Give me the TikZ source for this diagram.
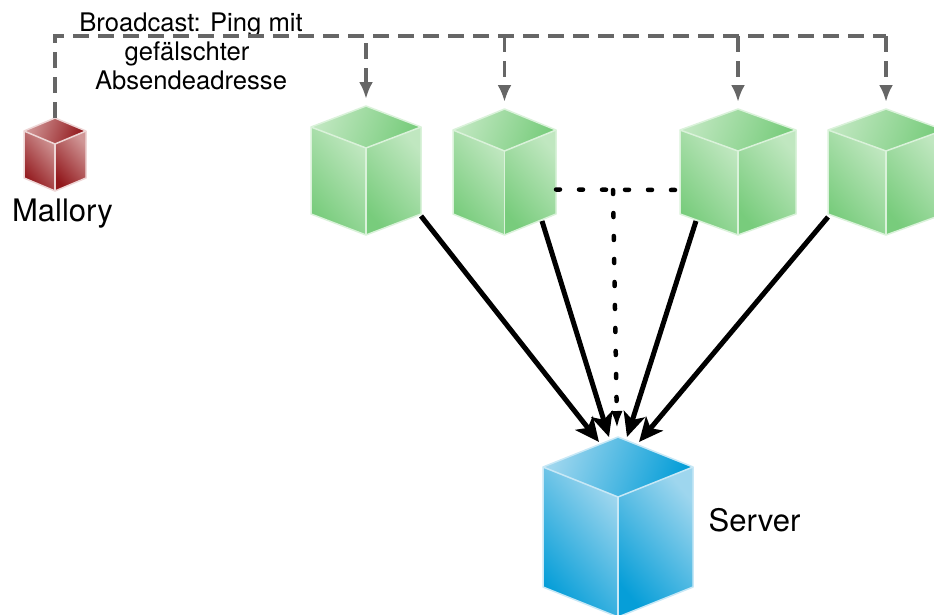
\documentclass[tikz,border=0pt]{standalone}
\usepackage{amssymb, amsmath, fontspec, tikz}
\usetikzlibrary{arrows.meta}
\setmainfont{TeX Gyre Heros}
\definecolor{greenlight}{RGB}{192,231,192}
\definecolor{greendark}{RGB}{120,204,124}
\definecolor{greenedge}{RGB}{218,242,218}
\definecolor{redlight}{RGB}{208,150,150}
\definecolor{reddark}{RGB}{146,24,28}
\definecolor{rededge}{RGB}{238,214,214}
\definecolor{bluelight}{RGB}{158,214,238}
\definecolor{bluedark}{RGB}{6,158,216}
\definecolor{blueedge}{RGB}{200,232,246}
\definecolor{busgray}{RGB}{102,102,102}
\tikzset{
  bus/.style = {line width = 3.6, busgray, dash pattern = on 16 off 9},
  busarrow/.style = {bus, -{Latex[length = 17, width = 14]}},
  flow/.style = {line width = 5, black, -{Stealth[length = 24, width = 22, inset = 6]}},
  dotline/.style = {line width = 4.5, black, dash pattern = on 4 off 19, line cap = round},
  caption/.style = {font = \fontsize{31}{36}\selectfont, inner sep = 0},
  note/.style = {font = \fontsize{25.6}{29}\selectfont, inner sep = 0, align = center},
  holder/.style = {inner sep = 0, outer sep = 0}
}
% name, colour, centre x, half width, apex y, shoulder, height
\newcommand{\cubenode}[7]{
  \shade [top color = #2light, bottom color = #2dark, shading angle = 70]
    (#3,#5) -- (#3+#4,#5+#6) -- (#3,#5+2*#6) -- (#3-#4,#5+#6) -- cycle;
  \shade [top color = #2light, bottom color = #2dark, shading angle = -50]
    (#3-#4,#5+#6) -- (#3,#5+2*#6) -- (#3,#5+2*#6+#7) -- (#3-#4,#5+#6+#7) -- cycle;
  \shade [top color = #2light, bottom color = #2dark, shading angle = -50]
    (#3+#4,#5+#6) -- (#3,#5+2*#6) -- (#3,#5+2*#6+#7) -- (#3+#4,#5+#6+#7) -- cycle;
  \draw [#2edge, line width = 1.5, line join = round]
    (#3,#5) -- (#3+#4,#5+#6) -- (#3+#4,#5+#6+#7) -- (#3,#5+2*#6+#7)
    -- (#3-#4,#5+#6+#7) -- (#3-#4,#5+#6) -- cycle;
  \draw [#2edge, line width = 1.5, line join = round]
    (#3-#4,#5+#6) -- (#3,#5+2*#6) -- (#3+#4,#5+#6);
  \draw [#2edge, line width = 1.5] (#3,#5+2*#6) -- (#3,#5+2*#6+#7);
  \node [holder, anchor = north, minimum width = {2*#4}, minimum height = {2*#6+#7}]
    (#1) at (#3,#5) {};
}
\begin{document}
\begin{tikzpicture}[x = 1pt, y = -1pt]
    \clip [use as bounding box] (0,0) rectangle (934,614);
    \cubenode{mallory}{red}{55}{31}{118}{13}{47}
    \cubenode{hosta}{green}{366}{55}{106}{21}{87}
    \cubenode{hostb}{green}{504.5}{51.5}{109}{21}{84}
    \cubenode{hostc}{green}{738}{58}{109}{21}{84}
    \cubenode{hostd}{green}{886}{58}{109}{21}{84}
    \cubenode{server}{blue}{618}{75}{437}{30}{120}
    \coordinate (busend) at (886,36);
    \coordinate (dotjoin) at (613,190);
    \node [caption] (malloryname) at (62.5,214) {Mallory};
    \node [caption] (servername) at (754.5,520) {Server};
    \node [note] (pingnote) at (191,51) {Broadcast: Ping mit\\\mbox{gefälschter\hspace{8pt}}\\Absendeadresse};
    \draw [bus] (mallory.north) |- (busend);
    \draw [busarrow, dash phase = 18] (hosta.north |- busend) to ([yshift = 7]hosta.north);
    \draw [busarrow] (hostb.north |- busend) to ([yshift = 7]hostb.north);
    \draw [busarrow] (hostc.north |- busend) to ([yshift = 7]hostc.north);
    \draw [busarrow] (busend) to ([yshift = 7]hostd.north);
    \draw [dotline] ([yshift = -17.5]hostb.east) to ([yshift = -18]hostc.west);
    \draw [dotline, -{Latex[length = 17, width = 12]}] (dotjoin) to ([xshift = -1, yshift = 9]server.north);
    \draw [flow] ([yshift = 19]hosta.south east) to ([xshift = -19, yshift = -5]server.north);
    \draw [flow] ([xshift = -14, yshift = 14]hostb.south east) to ([xshift = -9]server.north);
    \draw [flow] ([xshift = 16, yshift = 14]hostc.south west) to ([xshift = 9]server.north);
    \draw [flow] ([yshift = 18]hostd.south west) to ([xshift = 21, yshift = -5]server.north);
  \end{tikzpicture}
\end{document}
